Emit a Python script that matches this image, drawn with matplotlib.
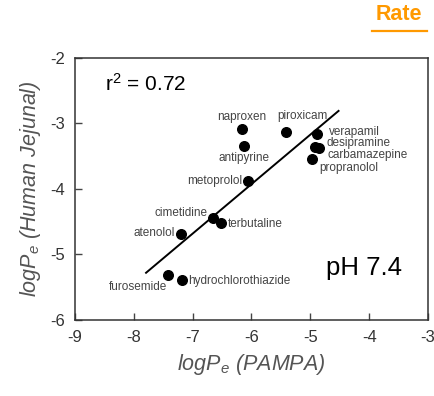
import matplotlib
matplotlib.use('Agg')
import matplotlib.pyplot as plt
from matplotlib.lines import Line2D

plt.rcParams['font.family'] = ['Liberation Sans', 'DejaVu Sans']
plt.rcParams['mathtext.fontset'] = 'custom'
plt.rcParams['mathtext.rm'] = 'Liberation Sans'
plt.rcParams['mathtext.it'] = 'Liberation Sans:italic'

# data
drugs = ['naproxen', 'piroxicam', 'verapamil', 'desipramine', 'carbamazepine',
         'propranolol', 'antipyrine', 'metoprolol', 'cimetidine', 'terbutaline',
         'atenolol', 'furosemide', 'hydrochlorothiazide']
log_pampa = [-6.16, -5.41, -4.88, -4.92, -4.85, -4.97, -6.12, -6.06, -6.66,
             -6.52, -7.20, -7.41, -7.18]
log_jejunal = [-3.08, -3.13, -3.16, -3.36, -3.37, -3.54, -3.35, -3.88, -4.45,
               -4.52, -4.69, -5.31, -5.39]
fit_x = [-7.79, -4.52]
fit_y = [-5.28, -2.81]
x_ticks = [-9, -8, -7, -6, -5, -4, -3]
y_ticks = [-6, -5, -4, -3, -2]

# label placement (pixel offsets, alignment)
offsets = {
    'naproxen': (0, 12, 'center'),
    'piroxicam': (16, 16, 'center'),
    'verapamil': (12, 2, 'left'),
    'desipramine': (11, 4, 'left'),
    'carbamazepine': (8, -7, 'left'),
    'propranolol': (7, -9, 'left'),
    'antipyrine': (0, -12, 'center'),
    'metoprolol': (-6, 0, 'right'),
    'cimetidine': (-5, 5, 'right'),
    'terbutaline': (7, -1, 'left'),
    'atenolol': (-6, 1, 'right'),
    'furosemide': (-1, -12, 'right'),
    'hydrochlorothiazide': (6, -1, 'left'),
}

fig = plt.figure(figsize=(4.35, 3.96), dpi=100)
ax = fig.add_axes([0.172, 0.192, 0.812, 0.662])

ax.plot(fit_x, fit_y, color='black', lw=1.4, zorder=2)
ax.scatter(log_pampa, log_jejunal, s=48, color='black', zorder=3)

px = 72 / 100
for name, x, y in zip(drugs, log_pampa, log_jejunal):
    dx, dy, ha = offsets[name]
    ax.annotate(name, (x, y), xytext=(dx * px, dy * px), textcoords='offset points',
                ha=ha, va='center', fontsize=8.5, color='#444444')

ax.set_xlim(-9, -3)
ax.set_ylim(-6, -2)
ax.set_xticks(x_ticks)
ax.set_yticks(y_ticks)
ax.set_xticklabels([str(t) for t in x_ticks])
ax.set_yticklabels([str(t) for t in y_ticks])
ax.tick_params(direction='in', length=5, width=1, labelsize=12,
               labelcolor='#333333', color='#444444', pad=7)
for s in ax.spines.values():
    s.set_color('#333333')
    s.set_linewidth(1.1)

ax.set_xlabel('logP$_e$ (PAMPA)', fontsize=15.5, style='italic', color='#555555',
              labelpad=5)
ax.set_ylabel('logP$_e$ (Human Jejunal)', fontsize=15.5, style='italic',
              color='#555555', labelpad=5)

ax.text(0.085, 0.9, r'r$^2$ = 0.72', transform=ax.transAxes, fontsize=15,
        color='black', va='center')
ax.text(0.925, 0.2, 'pH 7.4', transform=ax.transAxes, fontsize=18.5,
        color='black', ha='right', va='center')

fig.text(0.917, 0.963, 'Rate', fontsize=15.5, fontweight='bold', color='#FF9900',
         ha='center', va='center')
fig.add_artist(Line2D([0.856, 0.982], [0.922, 0.922], transform=fig.transFigure,
                      color='#FF9900', lw=1.6))

fig.savefig('out.png', dpi=100)
